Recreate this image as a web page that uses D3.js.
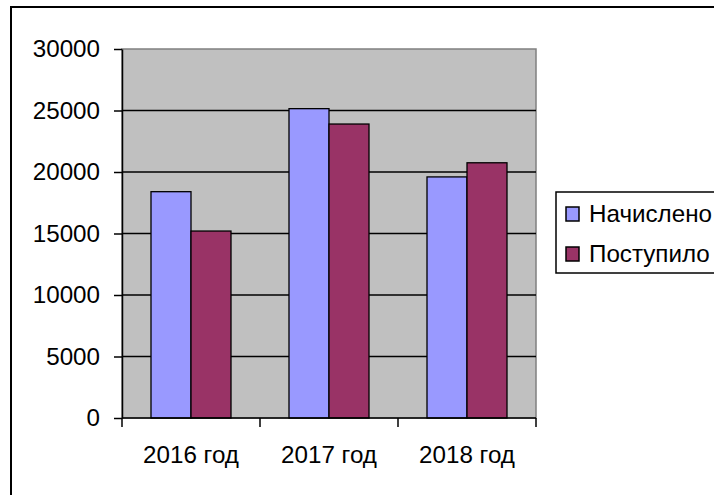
<!DOCTYPE html>
<html>
<head>
<meta charset="utf-8">
<script src="https://cdn.jsdelivr.net/npm/d3@7"></script>
<style>
  body { margin: 0; background: #fff; }
  text { font-family: Arial, 'Liberation Sans', sans-serif; }
</style>
</head>
<body>
<svg width="714" height="495"></svg>
<script>
const categories = ['2016 год', '2017 год', '2018 год']
const series = ['Начислено', 'Поступило']
const accrued = [18400, 25150, 19600]
const received = [15200, 23900, 20750]
const yTicks = [0, 5000, 10000, 15000, 20000, 25000, 30000]

const colors = ['#9999ff', '#993366']
const fontSize = 24.2

const xPixelMin = 122
const xPixelMax = 536
const yPixelMin = 49
const yPixelMax = 418

const svg = d3.select('svg')

// Outer chart frame (runs off the right and bottom of the picture)
svg.append('rect')
  .attr('x', 11).attr('y', 7)
  .attr('width', 800).attr('height', 600)
  .attr('fill', '#fff')
  .attr('stroke', '#000')
  .attr('stroke-width', 2)

// Scales
const xScale = d3.scaleBand().domain(categories).range([xPixelMin, xPixelMax]).padding(0)
const inner = d3.scaleBand().domain(series).range([0, xScale.bandwidth()])
  .paddingInner(0).paddingOuter(0.725)
const yScale = d3.scaleLinear().domain([0, 30000]).range([yPixelMax, yPixelMin])

// Plot area
svg.append('rect')
  .attr('x', xPixelMin).attr('y', yPixelMin)
  .attr('width', xPixelMax - xPixelMin).attr('height', yPixelMax - yPixelMin)
  .attr('fill', '#c0c0c0')
  .attr('stroke', '#808080')
  .attr('stroke-width', 1.5)

// Gridlines
svg.append('g')
  .selectAll('line.grid')
  .data(yTicks.filter((d) => d > 0 && d < 30000))
  .enter()
  .append('line')
  .attr('class', 'grid')
  .attr('x1', xPixelMin).attr('x2', xPixelMax)
  .attr('y1', (d) => yScale(d)).attr('y2', (d) => yScale(d))
  .attr('stroke', '#000')
  .attr('stroke-width', 1.4)

// Bars
const rows = categories.map((c, i) => ({ cat: c, values: [accrued[i], received[i]] }))

const groups = svg.append('g')
  .selectAll('g.cat')
  .data(rows)
  .enter()
  .append('g')
  .attr('class', 'cat')
  .attr('transform', (d) => `translate(${xScale(d.cat)},0)`)

groups.selectAll('rect')
  .data((d) => d.values.map((v, j) => ({ key: series[j], value: v, j: j })))
  .enter()
  .append('rect')
  .attr('x', (d) => inner(d.key))
  .attr('width', inner.bandwidth())
  .attr('y', (d) => yScale(d.value))
  .attr('height', (d) => yScale(0) - yScale(d.value))
  .attr('fill', (d) => colors[d.j])
  .attr('stroke', '#000')
  .attr('stroke-width', 1.3)

// Y axis
const yAxis = d3.axisLeft(yScale)
  .tickValues(yTicks)
  .tickFormat(d3.format('d'))
  .tickSize(8)
  .tickSizeOuter(0)
  .tickPadding(14)

const yAxisG = svg.append('g')
  .attr('transform', `translate(${xPixelMin},0)`)
  .call(yAxis)
yAxisG.selectAll('path, line').attr('stroke', '#000').attr('stroke-width', 1.5)
yAxisG.selectAll('text')
  .attr('font-size', fontSize)
  .attr('font-family', "Arial, 'Liberation Sans', sans-serif")
  .attr('fill', '#000')

// X axis
svg.append('line')
  .attr('x1', xPixelMin).attr('x2', xPixelMax)
  .attr('y1', yPixelMax).attr('y2', yPixelMax)
  .attr('stroke', '#000')
  .attr('stroke-width', 1.5)

const boundaries = categories.map((c) => xScale(c)).concat([xScale.range()[1]])
svg.append('g')
  .selectAll('line.xtick')
  .data(boundaries)
  .enter()
  .append('line')
  .attr('class', 'xtick')
  .attr('x1', (d) => d).attr('x2', (d) => d)
  .attr('y1', yPixelMax).attr('y2', yPixelMax + 9)
  .attr('stroke', '#000')
  .attr('stroke-width', 1.5)

svg.append('g')
  .selectAll('text.xlab')
  .data(categories)
  .enter()
  .append('text')
  .attr('class', 'xlab')
  .attr('x', (d) => xScale(d) + xScale.bandwidth() / 2)
  .attr('y', 463)
  .attr('text-anchor', 'middle')
  .attr('font-size', fontSize)
  .text((d) => d)

// Legend
svg.append('rect')
  .attr('x', 556).attr('y', 192)
  .attr('width', 300).attr('height', 81)
  .attr('fill', '#fff')
  .attr('stroke', '#000')
  .attr('stroke-width', 1.5)

const legend = svg.append('g')
  .selectAll('g.leg')
  .data(series)
  .enter()
  .append('g')
  .attr('class', 'leg')
  .attr('transform', (d, i) => `translate(566,${207 + i * 40})`)

legend.append('rect')
  .attr('width', 13).attr('height', 14)
  .attr('fill', (d, i) => colors[i])
  .attr('stroke', '#000')
  .attr('stroke-width', 1.5)

legend.append('text')
  .attr('x', 23)
  .attr('y', 15)
  .attr('font-size', fontSize)
  .text((d) => d)
</script>
</body>
</html>
